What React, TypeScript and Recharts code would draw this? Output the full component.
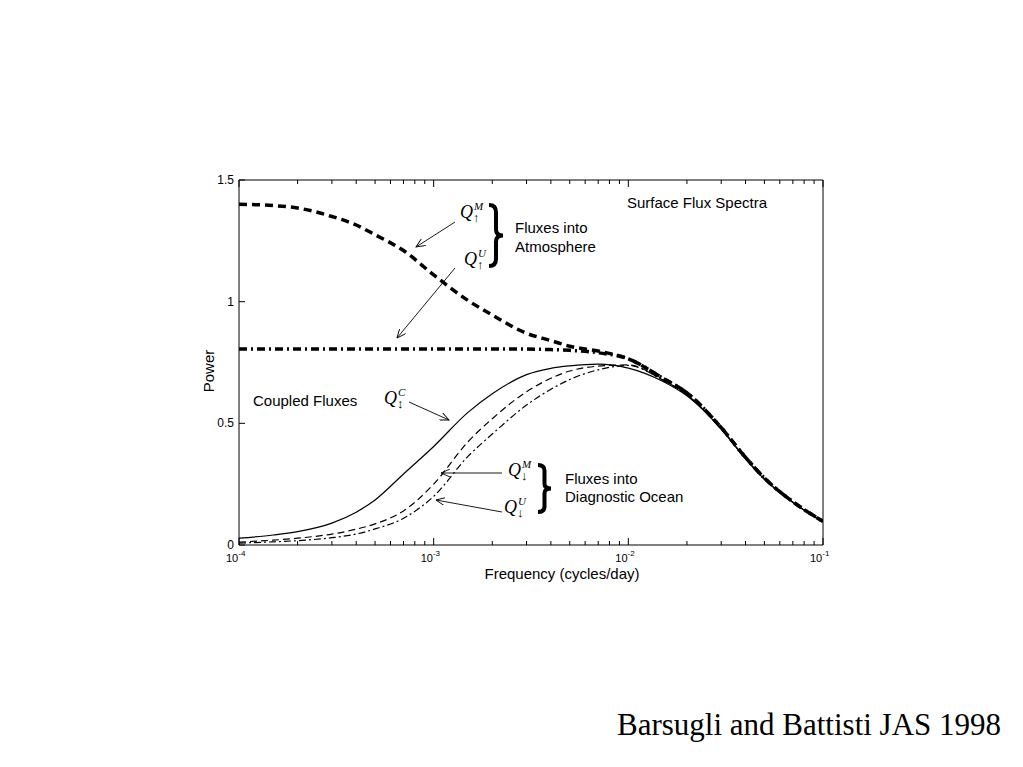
import React from "react";
import { LineChart, Line, XAxis, YAxis } from "recharts";

// frequency (cycles/day) and the five spectra
const freqs = [
  1e-4, 1.5e-4, 2e-4, 3e-4, 4e-4, 5e-4, 7e-4, 1e-3, 1.5e-3, 2e-3, 3e-3, 4e-3,
  5e-3, 7e-3, 1e-2, 1.5e-2, 2e-2, 3e-2, 4e-2, 5e-2, 7e-2, 1e-1,
];
const qUpM = [
  1.4, 1.395, 1.385, 1.35, 1.315, 1.275, 1.21, 1.11, 1.005, 0.945, 0.87, 0.84,
  0.817, 0.797, 0.765, 0.686, 0.625, 0.482, 0.36, 0.275, 0.178, 0.097,
];
const qUpU = [
  0.805, 0.805, 0.805, 0.805, 0.805, 0.805, 0.805, 0.805, 0.805, 0.805, 0.805,
  0.803, 0.8, 0.79, 0.765, 0.686, 0.625, 0.482, 0.36, 0.275, 0.178, 0.097,
];
const qCoupled = [
  0.028, 0.041, 0.055, 0.09, 0.135, 0.185, 0.292, 0.405, 0.545, 0.622, 0.7,
  0.726, 0.736, 0.743, 0.727, 0.673, 0.613, 0.476, 0.354, 0.27, 0.175, 0.095,
];
const qDownM = [
  0.012, 0.02, 0.028, 0.045, 0.065, 0.087, 0.14, 0.25, 0.424, 0.519, 0.63,
  0.685, 0.715, 0.735, 0.74, 0.678, 0.617, 0.478, 0.356, 0.272, 0.176, 0.095,
];
const qDownU = [
  0.008, 0.013, 0.018, 0.03, 0.045, 0.066, 0.11, 0.2, 0.364, 0.456, 0.575,
  0.64, 0.68, 0.72, 0.738, 0.678, 0.617, 0.478, 0.356, 0.272, 0.176, 0.095,
];

const xMajorTicks = [1e-4, 1e-3, 1e-2, 1e-1];
const xMajorLabels = ["-4", "-3", "-2", "-1"];
const xMinorTicks = [
  2e-4, 3e-4, 4e-4, 5e-4, 6e-4, 7e-4, 8e-4, 9e-4,
  2e-3, 3e-3, 4e-3, 5e-3, 6e-3, 7e-3, 8e-3, 9e-3,
  2e-2, 3e-2, 4e-2, 5e-2, 6e-2, 7e-2, 8e-2, 9e-2,
];
const yTicks = [0, 0.5, 1, 1.5];
const yTickLabels = ["0", "0.5", "1", "1.5"];

const data = freqs.map((f, i) => ({
  f,
  qUpM: qUpM[i],
  qUpU: qUpU[i],
  qCoupled: qCoupled[i],
  qDownM: qDownM[i],
  qDownU: qDownU[i],
}));

const allXTicks = [...xMajorTicks, ...xMinorTicks].sort((a, b) => a - b);

const SANS = "'Liberation Sans', Arial, Helvetica, sans-serif";
const SERIF = "'Liberation Serif', 'Times New Roman', serif";

function BottomTick({ x, y, payload }: any) {
  const idx = xMajorTicks.indexOf(payload.value);
  const major = idx >= 0;
  return (
    <g>
      <line x1={x} x2={x} y1={y} y2={y - (major ? 7 : 4)} stroke="#000" strokeWidth={1} />
      {major && (
        <text x={x - 13} y={y + 17} fontFamily={SANS} fontSize={11} fill="#000">
          10
          <tspan dy={-6} fontSize={8}>
            {xMajorLabels[idx]}
          </tspan>
        </text>
      )}
    </g>
  );
}

function TopTick({ x, y, payload }: any) {
  const major = xMajorTicks.indexOf(payload.value) >= 0;
  return <line x1={x} x2={x} y1={y} y2={y + (major ? 7 : 4)} stroke="#000" strokeWidth={1} />;
}

function LeftTick({ x, y, payload }: any) {
  const idx = yTicks.indexOf(payload.value);
  return (
    <g>
      <line x1={x} x2={x + 6} y1={y} y2={y} stroke="#000" strokeWidth={1} />
      <text x={x - 5} y={y + 4} textAnchor="end" fontFamily={SANS} fontSize={12} fill="#000">
        {yTickLabels[idx]}
      </text>
    </g>
  );
}

function RightTick({ x, y }: any) {
  return <line x1={x} x2={x - 6} y1={y} y2={y} stroke="#000" strokeWidth={1} />;
}

function QSym({ x, y, sup, arrow }: { x: number; y: number; sup: string; arrow: string }) {
  return (
    <g fontFamily={SERIF} fill="#000">
      <text x={x} y={y} fontSize={18} fontStyle="italic">
        Q
      </text>
      <text x={x + 14} y={y - 8} fontSize={11} fontStyle="italic">
        {sup}
      </text>
      <text x={x + 13} y={y + 4} fontSize={13}>
        {arrow}
      </text>
    </g>
  );
}

function Brace({ x, y1, y2, w }: { x: number; y1: number; y2: number; w: number }) {
  const h = y2 - y1;
  const ym = (y1 + y2) / 2;
  const xc = x + w / 2;
  const d = [
    `M${x},${y1}`,
    `Q${xc},${y1} ${xc},${y1 + h * 0.12}`,
    `L${xc},${ym - h * 0.1}`,
    `Q${xc},${ym} ${x + w},${ym}`,
    `Q${xc},${ym} ${xc},${ym + h * 0.1}`,
    `L${xc},${y2 - h * 0.12}`,
    `Q${xc},${y2} ${x},${y2}`,
  ].join(" ");
  return <path d={d} fill="none" stroke="#000" strokeWidth={4} />;
}

function Annotations() {
  const arrow = { stroke: "#000", strokeWidth: 0.9, markerEnd: "url(#arrowhead)" };
  return (
    <svg
      width={1023}
      height={767}
      style={{ position: "absolute", left: 0, top: 0, pointerEvents: "none" }}
    >
      <defs>
        <marker id="arrowhead" markerWidth={10} markerHeight={8} refX={9} refY={4} orient="auto" markerUnits="userSpaceOnUse">
          <path d="M0,0 L9,4 L0,8" fill="none" stroke="#000" strokeWidth={0.9} />
        </marker>
      </defs>

      <text x={627} y={208} fontFamily={SANS} fontSize={15}>
        Surface Flux Spectra
      </text>

      {/* fluxes into atmosphere */}
      <QSym x={460} y={218} sup="M" arrow="↑" />
      <QSym x={464} y={265} sup="U" arrow="↑" />
      <Brace x={489} y1={205} y2={266} w={14} />
      <text x={515} y={233} fontFamily={SANS} fontSize={15}>
        Fluxes into
      </text>
      <text x={515} y={252} fontFamily={SANS} fontSize={15}>
        Atmosphere
      </text>
      <line x1={455} y1={222} x2={416} y2={247} {...arrow} />
      <line x1={455} y1={268} x2={397} y2={338} {...arrow} />

      {/* coupled */}
      <text x={253} y={406} fontFamily={SANS} fontSize={15}>
        Coupled Fluxes
      </text>
      <QSym x={384} y={404} sup="C" arrow="↕" />
      <line x1={409} y1={402} x2={449} y2={420} {...arrow} />

      {/* fluxes into diagnostic ocean */}
      <QSym x={508} y={476} sup="M" arrow="↓" />
      <QSym x={504} y={513} sup="U" arrow="↓" />
      <Brace x={538} y1={465} y2={512} w={13} />
      <text x={565} y={484} fontFamily={SANS} fontSize={15}>
        Fluxes into
      </text>
      <text x={565} y={502} fontFamily={SANS} fontSize={15}>
        Diagnostic Ocean
      </text>
      <line x1={502} y1={473} x2={441} y2={473} {...arrow} />
      <line x1={502} y1={512} x2={436} y2={500} {...arrow} />

      {/* axis titles */}
      <text x={562} y={579} textAnchor="middle" fontFamily={SANS} fontSize={15}>
        Frequency (cycles/day)
      </text>
      <text
        x={0}
        y={0}
        transform="translate(214,371) rotate(-90)"
        textAnchor="middle"
        fontFamily={SANS}
        fontSize={15}
      >
        Power
      </text>

      <text x={617} y={735} fontFamily={SERIF} fontSize={31}>
        Barsugli and Battisti JAS 1998
      </text>
    </svg>
  );
}

export default function App() {
  return (
    <div style={{ position: "absolute", left: 0, top: 0, width: 1023, height: 767, background: "#fff" }}>
      <LineChart
        width={1023}
        height={767}
        data={data}
        margin={{ top: 170, right: 190, bottom: 192, left: 199 }}
      >
        <XAxis
          xAxisId="bottom"
          dataKey="f"
          type="number"
          scale="log"
          domain={[1e-4, 1e-1]}
          allowDataOverflow
          ticks={allXTicks}
          interval={0}
          height={30}
          tickSize={0}
          tickMargin={0}
          tickLine={false}
          tick={<BottomTick />}
          axisLine={{ stroke: "#000", strokeWidth: 1 }}
        />
        <XAxis
          xAxisId="top"
          orientation="top"
          dataKey="f"
          type="number"
          scale="log"
          domain={[1e-4, 1e-1]}
          allowDataOverflow
          ticks={allXTicks}
          interval={0}
          height={10}
          tickSize={0}
          tickMargin={0}
          tickLine={false}
          tick={<TopTick />}
          axisLine={{ stroke: "#000", strokeWidth: 1 }}
        />
        <YAxis
          yAxisId="left"
          type="number"
          domain={[0, 1.5]}
          ticks={yTicks}
          interval={0}
          width={40}
          tickSize={0}
          tickMargin={0}
          tickLine={false}
          tick={<LeftTick />}
          axisLine={{ stroke: "#000", strokeWidth: 1 }}
        />
        <YAxis
          yAxisId="right"
          orientation="right"
          type="number"
          domain={[0, 1.5]}
          ticks={yTicks}
          interval={0}
          width={10}
          tickSize={0}
          tickMargin={0}
          tickLine={false}
          tick={<RightTick />}
          axisLine={{ stroke: "#000", strokeWidth: 1 }}
        />
        <Line xAxisId="bottom" yAxisId="left" type="monotone" dataKey="qCoupled" stroke="#000" strokeWidth={1.2} dot={false} isAnimationActive={false} />
        <Line xAxisId="bottom" yAxisId="left" type="monotone" dataKey="qDownM" stroke="#000" strokeWidth={1.2} strokeDasharray="7 4" dot={false} isAnimationActive={false} />
        <Line xAxisId="bottom" yAxisId="left" type="monotone" dataKey="qDownU" stroke="#000" strokeWidth={1.2} strokeDasharray="7 3 2 3" dot={false} isAnimationActive={false} />
        <Line xAxisId="bottom" yAxisId="left" type="monotone" dataKey="qUpU" stroke="#000" strokeWidth={3.5} strokeDasharray="8 4 2 4" dot={false} isAnimationActive={false} />
        <Line xAxisId="bottom" yAxisId="left" type="monotone" dataKey="qUpM" stroke="#000" strokeWidth={3.5} strokeDasharray="8 5" dot={false} isAnimationActive={false} />
      </LineChart>
      <Annotations />
    </div>
  );
}
